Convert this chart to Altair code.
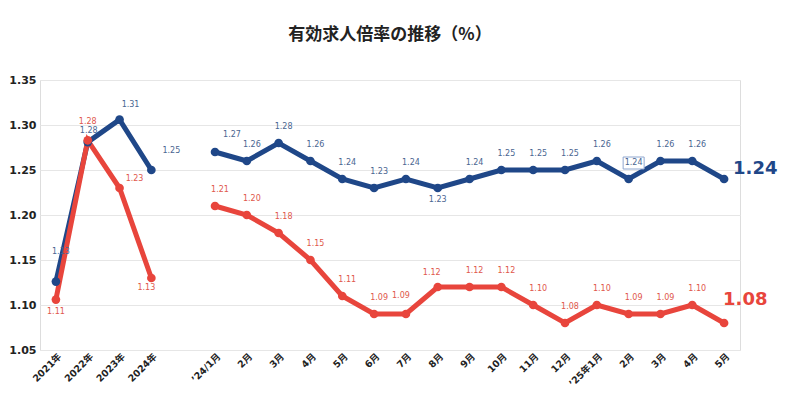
import json
import altair as alt
import pandas as pd

# ---------------- data ----------------
year_labels = ["2021年", "2022年", "2023年", "2024年"]
month_labels = ["’24/1月", "2月", "3月", "4月", "5月", "6月", "7月", "8月", "9月",
                "10月", "11月", "12月", "’25年1月", "2月", "3月", "4月", "5月"]

national_year = [1.126, 1.281, 1.306, 1.25]
shizuoka_year = [1.106, 1.283, 1.23, 1.13]

national_month = [1.27, 1.26, 1.28, 1.26, 1.24, 1.23, 1.24, 1.23, 1.24,
                  1.25, 1.25, 1.25, 1.26, 1.24, 1.26, 1.26, 1.24]
shizuoka_month = [1.21, 1.20, 1.18, 1.15, 1.11, 1.09, 1.09, 1.12, 1.12,
                  1.12, 1.10, 1.08, 1.10, 1.09, 1.09, 1.10, 1.08]

series_names = ["全国", "静岡県"]
colors = ["#1f4788", "#e8453c"]
label_colors = ["#4a6591", "#e0574b"]

# ---------------- layout helpers ----------------
W, H = 700, 270
N_SLOTS = len(year_labels) + 1 + len(month_labels)
PX_X = W / N_SLOTS
PX_Y = H / 0.30

all_labels = year_labels + [""] + month_labels
gap_idx = len(year_labels)

# label pixel offsets (dx, dy) relative to the point
default_off = (5, -16)
special_off = {
    ("全国", 0): (5, -30), ("全国", 1): (1, -11), ("全国", 2): (11, -15),
    ("全国", 3): (20, -19), ("全国", 5): (17, -17), ("全国", 12): (0, 12),
    ("静岡県", 0): (0, 12), ("静岡県", 1): (0, -18), ("静岡県", 2): (15, -9),
    ("静岡県", 3): (-5, 10), ("静岡県", 11): (-5, -18), ("静岡県", 12): (-6, -14),
}
boxed = ("全国", 18)  # label drawn with a thin frame in the reference

rows = []
for s, (yv, mv) in zip(series_names, [(national_year, national_month),
                                     (shizuoka_year, shizuoka_month)]):
    for i, v in enumerate(yv):
        rows.append(dict(series=s, idx=i, value=v, seg="year"))
    for j, v in enumerate(mv):
        rows.append(dict(series=s, idx=gap_idx + 1 + j, value=v, seg="month"))
df = pd.DataFrame(rows)
last_idx = N_SLOTS - 1
df["is_last"] = df["idx"] == last_idx
df["label"] = df["value"].map(lambda v: f"{v + 1e-9:.2f}")
dxs, dys = [], []
for _, r in df.iterrows():
    dx, dy = special_off.get((r.series, r.idx), default_off)
    dxs.append(dx)
    dys.append(dy)
df["lx"] = df["idx"] + pd.Series(dxs) / PX_X
df["ly"] = df["value"] - pd.Series(dys) / PX_Y
df["boxed"] = [(r.series, r.idx) == boxed for r in df.itertuples()]
df["bx1"] = df["lx"] - 10.5 / PX_X
df["bx2"] = df["lx"] + 10.5 / PX_X
df["by1"] = df["ly"] - 6 / PX_Y
df["by2"] = df["ly"] + 6 / PX_Y

big_off = {"全国": (9, -10), "静岡県": (-1, -23)}
df["bx"] = [r.idx + big_off[r.series][0] / PX_X for r in df.itertuples()]
df["by"] = [r.value - big_off[r.series][1] / PX_Y for r in df.itertuples()]

# ---------------- scales ----------------
xscale_o = alt.Scale(type="point", domain=list(range(N_SLOTS)), padding=0.5)
xscale_q = alt.Scale(domain=[-0.5, N_SLOTS - 0.5], nice=False, zero=False)
yscale = alt.Scale(domain=[1.05, 1.35], nice=False, zero=False)
cscale = alt.Scale(domain=series_names, range=colors)
lcscale = alt.Scale(domain=series_names, range=label_colors)

xaxis = alt.Axis(
    values=[i for i in range(N_SLOTS) if i != gap_idx],
    labelExpr=json.dumps(all_labels, ensure_ascii=False) + "[datum.value]",
    labelAngle=-45, labelFont="DejaVu Sans, Noto Sans CJK JP", labelFontSize=9.5,
    labelFontWeight="bold", labelColor="#222222", grid=False, domain=False,
    ticks=False, labelOverlap=False, labelFlush=False, labelPadding=1, title=None,
)
yaxis = alt.Axis(
    values=[1.05, 1.10, 1.15, 1.20, 1.25, 1.30, 1.35], format=".2f",
    labelFont="DejaVu Sans", labelFontSize=11, labelFontWeight="bold",
    labelColor="#222222", grid=True, gridColor="#e6e6e6", domain=False,
    ticks=False, labelPadding=4, title=None,
)

base = alt.Chart(df)

lines = base.mark_line(strokeWidth=5).encode(
    x=alt.X("idx:O", scale=xscale_o, axis=xaxis),
    y=alt.Y("value:Q", scale=yscale, axis=yaxis),
    color=alt.Color("series:N", scale=cscale, legend=None),
    detail="seg:N",
)

points = base.mark_circle(size=75, opacity=1).encode(
    x=alt.X("idx:O", scale=xscale_o, axis=xaxis),
    y="value:Q",
    color=alt.Color(
        "series:N", scale=cscale,
        legend=alt.Legend(
            title=None, orient="none", direction="horizontal",
            legendX=280, legendY=-20, symbolType="circle", symbolSize=40,
            labelFont="Noto Sans CJK JP", labelFontSize=12, labelFontWeight="bold",
            labelColor="#222222", columnPadding=10, symbolStrokeWidth=0,
        ),
    ),
)

frame = base.mark_rect(fill="white", stroke="#8ea6cf", strokeWidth=1).encode(
    x=alt.X("bx1:Q", scale=xscale_q, axis=None), x2="bx2:Q",
    y="by1:Q", y2="by2:Q",
).transform_filter("datum.boxed")

labels = base.mark_text(
    font="DejaVu Sans", fontSize=8, baseline="middle", align="center"
).encode(
    x=alt.X("lx:Q", scale=xscale_q, axis=None),
    y="ly:Q", text="label:N",
    color=alt.Color("series:N", scale=lcscale, legend=None),
).transform_filter("!datum.is_last")

big = base.mark_text(
    font="DejaVu Sans", fontSize=18, fontWeight="bold", baseline="middle", align="left"
).encode(
    x=alt.X("bx:Q", scale=xscale_q, axis=None),
    y="by:Q", text="label:N",
    color=alt.Color("series:N", scale=cscale, legend=None),
).transform_filter("datum.is_last")

marks = alt.layer(lines, points)
texts = alt.layer(frame, labels, big).resolve_scale(color="independent")

chart = alt.layer(marks, texts).resolve_scale(
    color="independent", x="independent"
).properties(
    width=W, height=H,
    autosize=alt.AutoSizeParams(type="none"),
    padding={"left": 32, "top": 72, "right": 52, "bottom": 39},
    title=alt.TitleParams(
        "有効求人倍率の推移（%）", font="Noto Sans CJK JP", fontSize=17,
        fontWeight="bold", color="#222222", anchor="middle", offset=13,
        baseline="bottom",
    ),
).configure_view(stroke=None).configure(background="white")

chart.save("out.html", embed_options={"renderer": "svg", "actions": False})
